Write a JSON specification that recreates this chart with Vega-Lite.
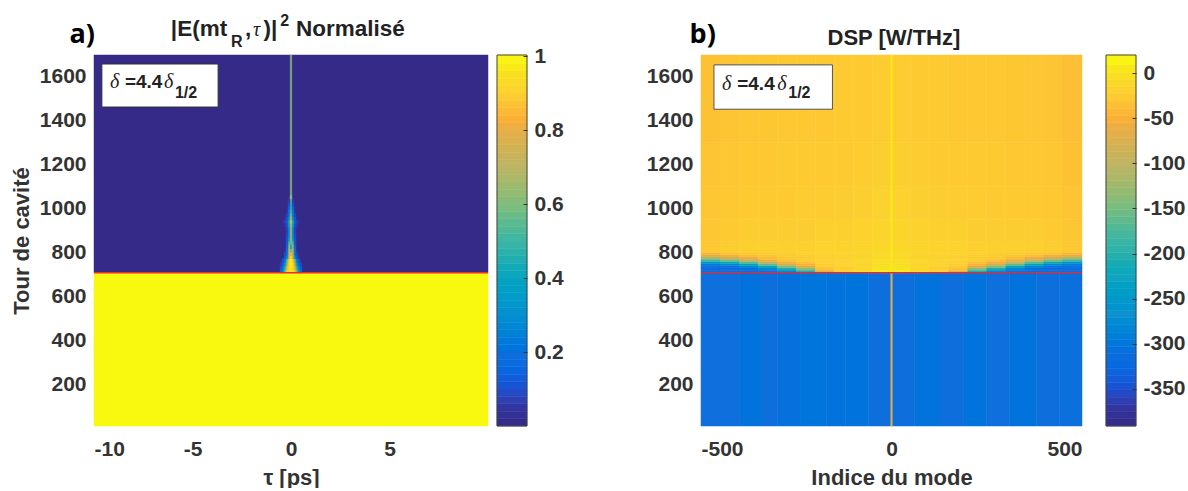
{"$schema":"https://vega.github.io/schema/vega-lite/v6.json","background":"white","padding":{"left":10,"top":13,"right":0,"bottom":0},"bounds":"flush","spacing":0,
"resolve":{"scale":{"color":"independent","stroke":"independent"},"legend":{"color":"independent"}},
"config":{"view":{"stroke":null},"font":"Liberation Sans","axis":{"domain":false,"ticks":false,"grid":false,"labelFont":"Liberation Sans","labelFontWeight":"bold","labelFontSize":21,"labelColor":"#333333","titleFont":"Liberation Sans","titleFontWeight":"bold","titleFontSize":22,"titleColor":"#333333"}},
"hconcat":[
{"width":394,"height":371,"layer":[
{"data":{"values":[
{"x0":-10,"x1":10,"y0":708,"y1":1700,"v":0},{"x0":-10,"x1":10,"y0":10,"y1":708,"v":1},
{"x0":-0.035,"x1":0.035,"y0":1060,"y1":1700,"v":0.6},
{"x0":-0.05,"x1":0.05,"y0":708,"y1":724,"v":0.98},{"x0":0.05,"x1":0.15,"y0":708,"y1":724,"v":0.95},{"x0":-0.15,"x1":-0.05,"y0":708,"y1":724,"v":0.95},{"x0":0.15,"x1":0.25,"y0":708,"y1":724,"v":0.88},{"x0":-0.25,"x1":-0.15,"y0":708,"y1":724,"v":0.88},{"x0":0.25,"x1":0.35,"y0":708,"y1":724,"v":0.6},{"x0":-0.35,"x1":-0.25,"y0":708,"y1":724,"v":0.6},{"x0":0.35,"x1":0.45,"y0":708,"y1":724,"v":0.35},{"x0":-0.45,"x1":-0.35,"y0":708,"y1":724,"v":0.35},{"x0":0.45,"x1":0.55,"y0":708,"y1":724,"v":0.18},{"x0":-0.55,"x1":-0.45,"y0":708,"y1":724,"v":0.18},
{"x0":-0.05,"x1":0.05,"y0":724,"y1":740,"v":0.98},{"x0":0.05,"x1":0.15,"y0":724,"y1":740,"v":0.95},{"x0":-0.15,"x1":-0.05,"y0":724,"y1":740,"v":0.95},{"x0":0.15,"x1":0.25,"y0":724,"y1":740,"v":0.85},{"x0":-0.25,"x1":-0.15,"y0":724,"y1":740,"v":0.85},{"x0":0.25,"x1":0.35,"y0":724,"y1":740,"v":0.5},{"x0":-0.35,"x1":-0.25,"y0":724,"y1":740,"v":0.5},{"x0":0.35,"x1":0.45,"y0":724,"y1":740,"v":0.28},{"x0":-0.45,"x1":-0.35,"y0":724,"y1":740,"v":0.28},{"x0":0.45,"x1":0.55,"y0":724,"y1":740,"v":0.12},{"x0":-0.55,"x1":-0.45,"y0":724,"y1":740,"v":0.12},
{"x0":-0.05,"x1":0.05,"y0":740,"y1":756,"v":1},{"x0":0.05,"x1":0.15,"y0":740,"y1":756,"v":0.95},{"x0":-0.15,"x1":-0.05,"y0":740,"y1":756,"v":0.95},{"x0":0.15,"x1":0.25,"y0":740,"y1":756,"v":0.75},{"x0":-0.25,"x1":-0.15,"y0":740,"y1":756,"v":0.75},{"x0":0.25,"x1":0.35,"y0":740,"y1":756,"v":0.4},{"x0":-0.35,"x1":-0.25,"y0":740,"y1":756,"v":0.4},{"x0":0.35,"x1":0.45,"y0":740,"y1":756,"v":0.18},{"x0":-0.45,"x1":-0.35,"y0":740,"y1":756,"v":0.18},{"x0":0.45,"x1":0.55,"y0":740,"y1":756,"v":0.08},{"x0":-0.55,"x1":-0.45,"y0":740,"y1":756,"v":0.08},
{"x0":-0.05,"x1":0.05,"y0":756,"y1":772,"v":1},{"x0":0.05,"x1":0.15,"y0":756,"y1":772,"v":0.9},{"x0":-0.15,"x1":-0.05,"y0":756,"y1":772,"v":0.9},{"x0":0.15,"x1":0.25,"y0":756,"y1":772,"v":0.6},{"x0":-0.25,"x1":-0.15,"y0":756,"y1":772,"v":0.6},{"x0":0.25,"x1":0.35,"y0":756,"y1":772,"v":0.28},{"x0":-0.35,"x1":-0.25,"y0":756,"y1":772,"v":0.28},{"x0":0.35,"x1":0.45,"y0":756,"y1":772,"v":0.12},{"x0":-0.45,"x1":-0.35,"y0":756,"y1":772,"v":0.12},
{"x0":-0.05,"x1":0.05,"y0":772,"y1":788,"v":0.95},{"x0":0.05,"x1":0.15,"y0":772,"y1":788,"v":0.8},{"x0":-0.15,"x1":-0.05,"y0":772,"y1":788,"v":0.8},{"x0":0.15,"x1":0.25,"y0":772,"y1":788,"v":0.35},{"x0":-0.25,"x1":-0.15,"y0":772,"y1":788,"v":0.35},{"x0":0.25,"x1":0.35,"y0":772,"y1":788,"v":0.12},{"x0":-0.35,"x1":-0.25,"y0":772,"y1":788,"v":0.12},
{"x0":-0.05,"x1":0.05,"y0":788,"y1":804,"v":0.85},{"x0":0.05,"x1":0.15,"y0":788,"y1":804,"v":0.7},{"x0":-0.15,"x1":-0.05,"y0":788,"y1":804,"v":0.7},{"x0":0.15,"x1":0.25,"y0":788,"y1":804,"v":0.25},{"x0":-0.25,"x1":-0.15,"y0":788,"y1":804,"v":0.25},{"x0":0.25,"x1":0.35,"y0":788,"y1":804,"v":0.08},{"x0":-0.35,"x1":-0.25,"y0":788,"y1":804,"v":0.08},
{"x0":-0.05,"x1":0.05,"y0":804,"y1":820,"v":0.55},{"x0":0.05,"x1":0.15,"y0":804,"y1":820,"v":0.7},{"x0":-0.15,"x1":-0.05,"y0":804,"y1":820,"v":0.7},{"x0":0.15,"x1":0.25,"y0":804,"y1":820,"v":0.2},{"x0":-0.25,"x1":-0.15,"y0":804,"y1":820,"v":0.2},
{"x0":-0.05,"x1":0.05,"y0":820,"y1":836,"v":0.35},{"x0":0.05,"x1":0.15,"y0":820,"y1":836,"v":0.65},{"x0":-0.15,"x1":-0.05,"y0":820,"y1":836,"v":0.65},{"x0":0.15,"x1":0.25,"y0":820,"y1":836,"v":0.15},{"x0":-0.25,"x1":-0.15,"y0":820,"y1":836,"v":0.15},
{"x0":-0.05,"x1":0.05,"y0":836,"y1":852,"v":0.55},{"x0":0.05,"x1":0.15,"y0":836,"y1":852,"v":0.55},{"x0":-0.15,"x1":-0.05,"y0":836,"y1":852,"v":0.55},{"x0":0.15,"x1":0.25,"y0":836,"y1":852,"v":0.12},{"x0":-0.25,"x1":-0.15,"y0":836,"y1":852,"v":0.12},
{"x0":-0.05,"x1":0.05,"y0":852,"y1":868,"v":0.7},{"x0":0.05,"x1":0.15,"y0":852,"y1":868,"v":0.4},{"x0":-0.15,"x1":-0.05,"y0":852,"y1":868,"v":0.4},{"x0":0.15,"x1":0.25,"y0":852,"y1":868,"v":0.12},{"x0":-0.25,"x1":-0.15,"y0":852,"y1":868,"v":0.12},
{"x0":-0.05,"x1":0.05,"y0":868,"y1":884,"v":0.72},{"x0":0.05,"x1":0.15,"y0":868,"y1":884,"v":0.3},{"x0":-0.15,"x1":-0.05,"y0":868,"y1":884,"v":0.3},{"x0":0.15,"x1":0.25,"y0":868,"y1":884,"v":0.1},{"x0":-0.25,"x1":-0.15,"y0":868,"y1":884,"v":0.1},
{"x0":-0.05,"x1":0.05,"y0":884,"y1":900,"v":0.72},{"x0":0.05,"x1":0.15,"y0":884,"y1":900,"v":0.3},{"x0":-0.15,"x1":-0.05,"y0":884,"y1":900,"v":0.3},{"x0":0.15,"x1":0.25,"y0":884,"y1":900,"v":0.08},{"x0":-0.25,"x1":-0.15,"y0":884,"y1":900,"v":0.08},
{"x0":-0.05,"x1":0.05,"y0":900,"y1":916,"v":0.7},{"x0":0.05,"x1":0.15,"y0":900,"y1":916,"v":0.3},{"x0":-0.15,"x1":-0.05,"y0":900,"y1":916,"v":0.3},{"x0":0.15,"x1":0.25,"y0":900,"y1":916,"v":0.08},{"x0":-0.25,"x1":-0.15,"y0":900,"y1":916,"v":0.08},
{"x0":-0.05,"x1":0.05,"y0":916,"y1":932,"v":0.78},{"x0":0.05,"x1":0.15,"y0":916,"y1":932,"v":0.4},{"x0":-0.15,"x1":-0.05,"y0":916,"y1":932,"v":0.4},{"x0":0.15,"x1":0.25,"y0":916,"y1":932,"v":0.12},{"x0":-0.25,"x1":-0.15,"y0":916,"y1":932,"v":0.12},{"x0":0.25,"x1":0.35,"y0":916,"y1":932,"v":0.06},{"x0":-0.35,"x1":-0.25,"y0":916,"y1":932,"v":0.06},
{"x0":-0.05,"x1":0.05,"y0":932,"y1":948,"v":0.88},{"x0":0.05,"x1":0.15,"y0":932,"y1":948,"v":0.45},{"x0":-0.15,"x1":-0.05,"y0":932,"y1":948,"v":0.45},{"x0":0.15,"x1":0.25,"y0":932,"y1":948,"v":0.15},{"x0":-0.25,"x1":-0.15,"y0":932,"y1":948,"v":0.15},{"x0":0.25,"x1":0.35,"y0":932,"y1":948,"v":0.07},{"x0":-0.35,"x1":-0.25,"y0":932,"y1":948,"v":0.07},{"x0":0.35,"x1":0.45,"y0":932,"y1":948,"v":0.05},{"x0":-0.45,"x1":-0.35,"y0":932,"y1":948,"v":0.05},
{"x0":-0.05,"x1":0.05,"y0":948,"y1":964,"v":0.8},{"x0":0.05,"x1":0.15,"y0":948,"y1":964,"v":0.35},{"x0":-0.15,"x1":-0.05,"y0":948,"y1":964,"v":0.35},{"x0":0.15,"x1":0.25,"y0":948,"y1":964,"v":0.12},{"x0":-0.25,"x1":-0.15,"y0":948,"y1":964,"v":0.12},
{"x0":-0.05,"x1":0.05,"y0":964,"y1":980,"v":0.65},{"x0":0.05,"x1":0.15,"y0":964,"y1":980,"v":0.25},{"x0":-0.15,"x1":-0.05,"y0":964,"y1":980,"v":0.25},{"x0":0.15,"x1":0.25,"y0":964,"y1":980,"v":0.08},{"x0":-0.25,"x1":-0.15,"y0":964,"y1":980,"v":0.08},
{"x0":-0.05,"x1":0.05,"y0":980,"y1":996,"v":0.55},{"x0":0.05,"x1":0.15,"y0":980,"y1":996,"v":0.2},{"x0":-0.15,"x1":-0.05,"y0":980,"y1":996,"v":0.2},
{"x0":-0.05,"x1":0.05,"y0":996,"y1":1012,"v":0.5},{"x0":0.05,"x1":0.15,"y0":996,"y1":1012,"v":0.15},{"x0":-0.15,"x1":-0.05,"y0":996,"y1":1012,"v":0.15},
{"x0":-0.05,"x1":0.05,"y0":1012,"y1":1028,"v":0.5},{"x0":0.05,"x1":0.15,"y0":1012,"y1":1028,"v":0.1},{"x0":-0.15,"x1":-0.05,"y0":1012,"y1":1028,"v":0.1},
{"x0":-0.05,"x1":0.05,"y0":1028,"y1":1044,"v":0.55},{"x0":0.05,"x1":0.15,"y0":1028,"y1":1044,"v":0.06},{"x0":-0.15,"x1":-0.05,"y0":1028,"y1":1044,"v":0.06},
{"x0":-0.05,"x1":0.05,"y0":1044,"y1":1060,"v":0.6}
]},"mark":{"type":"rect","strokeWidth":0.5},"encoding":{
"x":{"field":"x0","type":"quantitative","scale":{"domain":[-10,10],"nice":false,"zero":false},"axis":{"values":[-10,-5,0,5],"labelExpr":"''+datum.value","labelPadding":12,"title":"τ [ps]","titlePadding":8}},
"x2":{"field":"x1"},
"y":{"field":"y0","type":"quantitative","scale":{"domain":[10,1700],"nice":false,"zero":false},"axis":{"values":[200,400,600,800,1000,1200,1400,1600],"labelExpr":"''+datum.value","labelPadding":8,"title":"Tour de cavité","titlePadding":6}},
"y2":{"field":"y1"},
"color":{"field":"v","type":"quantitative","scale":{"domain":[0,0.05,0.1,0.15,0.2,0.3,0.4,0.45,0.5,0.6,0.7,0.8,0.83,0.85,0.9,0.95,1.003],"range":["#352a87","#32359f","#1a50d0","#0a66e0","#0f6fdc","#1090d0","#10a4c0","#20aeb0","#3bb5a5","#80bd7c","#bdb465","#e8ae48","#fbb035","#fdb838","#fcd12f","#f8e020","#f9fb0e"]},"legend":null},
"stroke":{"field":"v","type":"quantitative","scale":{"domain":[0,0.05,0.1,0.15,0.2,0.3,0.4,0.45,0.5,0.6,0.7,0.8,0.83,0.85,0.9,0.95,1.003],"range":["#352a87","#32359f","#1a50d0","#0a66e0","#0f6fdc","#1090d0","#10a4c0","#20aeb0","#3bb5a5","#80bd7c","#bdb465","#e8ae48","#fbb035","#fdb838","#fcd12f","#f8e020","#f9fb0e"]},"legend":null}}},
{"data":{"values":[{"y":708}]},"mark":{"type":"rule","color":"#ee2a2e","strokeWidth":1.5},"encoding":{"y":{"field":"y","type":"quantitative"}}},
{"data":{"values":[{"x0":-9.6,"x1":-3.7,"y0":1463,"y1":1659}]},"mark":{"type":"rect","fill":"white","stroke":"#333333","strokeWidth":1},"encoding":{"x":{"field":"x0","type":"quantitative"},"x2":{"field":"x1"},"y":{"field":"y0","type":"quantitative"},"y2":{"field":"y1"}}},
{"data":{"values":[{"x":-9.19,"y":1549,"t":"δ"},{"x":-6.45,"y":1549,"t":"δ"},{"x":-1.93,"y":1787,"t":"τ"}]},"mark":{"type":"text","font":"Liberation Serif","fontStyle":"italic","fontSize":20,"align":"left","baseline":"alphabetic","color":"#222222"},"encoding":{"x":{"field":"x","type":"quantitative"},"y":{"field":"y","type":"quantitative"},"text":{"field":"t"}}},
{"data":{"values":[{"x":-8.43,"y":1549,"t":"=4.4"}]},"mark":{"type":"text","font":"Liberation Sans","fontWeight":"bold","fontSize":19,"align":"left","baseline":"alphabetic","color":"#222222"},"encoding":{"x":{"field":"x","type":"quantitative"},"y":{"field":"y","type":"quantitative"},"text":{"field":"t"}}},
{"data":{"values":[{"x":-6.1,"y":1787,"t":"|E(mt"},{"x":-2.33,"y":1787,"t":","},{"x":-1.4,"y":1787,"t":")|"},{"x":0.25,"y":1787,"t":"Normalisé"}]},"mark":{"type":"text","font":"Liberation Sans","fontWeight":"bold","fontSize":22.5,"align":"left","baseline":"alphabetic","color":"#222222"},"encoding":{"x":{"field":"x","type":"quantitative"},"y":{"field":"y","type":"quantitative"},"text":{"field":"t"}}},
{"data":{"values":[{"x":-5.89,"y":1504,"t":"1/2"},{"x":-3.05,"y":1737,"t":"R"},{"x":-0.55,"y":1832,"t":"2"}]},"mark":{"type":"text","font":"Liberation Sans","fontWeight":"bold","fontSize":16,"align":"left","baseline":"alphabetic","color":"#222222"},"encoding":{"x":{"field":"x","type":"quantitative"},"y":{"field":"y","type":"quantitative"},"text":{"field":"t"}}},
{"data":{"values":[{"x":-11.25,"y":1755,"t":"a)"}]},"mark":{"type":"text","font":"Open Sans","fontWeight":"bold","fontSize":27,"align":"left","baseline":"alphabetic","color":"#000000"},"encoding":{"x":{"field":"x","type":"quantitative"},"y":{"field":"y","type":"quantitative"},"text":{"field":"t"}}}
]},
{"width":213,"height":371,"layer":[
{"data":{"values":[{"y0":0,"y1":0.02,"v":0.01},{"y0":0.02,"y1":0.04,"v":0.03},{"y0":0.04,"y1":0.06,"v":0.05},{"y0":0.06,"y1":0.08,"v":0.07},{"y0":0.08,"y1":0.1,"v":0.09},{"y0":0.1,"y1":0.12,"v":0.11},{"y0":0.12,"y1":0.14,"v":0.13},{"y0":0.14,"y1":0.16,"v":0.15},{"y0":0.16,"y1":0.18,"v":0.17},{"y0":0.18,"y1":0.2,"v":0.19},{"y0":0.2,"y1":0.22,"v":0.21},{"y0":0.22,"y1":0.24,"v":0.23},{"y0":0.24,"y1":0.26,"v":0.25},{"y0":0.26,"y1":0.28,"v":0.27},{"y0":0.28,"y1":0.3,"v":0.29},{"y0":0.3,"y1":0.32,"v":0.31},{"y0":0.32,"y1":0.34,"v":0.33},{"y0":0.34,"y1":0.36,"v":0.35},{"y0":0.36,"y1":0.38,"v":0.37},{"y0":0.38,"y1":0.4,"v":0.39},{"y0":0.4,"y1":0.42,"v":0.41},{"y0":0.42,"y1":0.44,"v":0.43},{"y0":0.44,"y1":0.46,"v":0.45},{"y0":0.46,"y1":0.48,"v":0.47},{"y0":0.48,"y1":0.5,"v":0.49},{"y0":0.5,"y1":0.52,"v":0.51},{"y0":0.52,"y1":0.54,"v":0.53},{"y0":0.54,"y1":0.56,"v":0.55},{"y0":0.56,"y1":0.58,"v":0.57},{"y0":0.58,"y1":0.6,"v":0.59},{"y0":0.6,"y1":0.62,"v":0.61},{"y0":0.62,"y1":0.64,"v":0.63},{"y0":0.64,"y1":0.66,"v":0.65},{"y0":0.66,"y1":0.68,"v":0.67},{"y0":0.68,"y1":0.7,"v":0.69},{"y0":0.7,"y1":0.72,"v":0.71},{"y0":0.72,"y1":0.74,"v":0.73},{"y0":0.74,"y1":0.76,"v":0.75},{"y0":0.76,"y1":0.78,"v":0.77},{"y0":0.78,"y1":0.8,"v":0.79},{"y0":0.8,"y1":0.82,"v":0.81},{"y0":0.82,"y1":0.84,"v":0.83},{"y0":0.84,"y1":0.86,"v":0.85},{"y0":0.86,"y1":0.88,"v":0.87},{"y0":0.88,"y1":0.9,"v":0.89},{"y0":0.9,"y1":0.92,"v":0.91},{"y0":0.92,"y1":0.94,"v":0.93},{"y0":0.94,"y1":0.96,"v":0.95},{"y0":0.96,"y1":0.98,"v":0.97},{"y0":0.98,"y1":1.003,"v":0.99}]},
"mark":{"type":"rect","strokeWidth":0.5},"encoding":{
"x":{"datum":9,"type":"quantitative","scale":{"domain":[0,213],"nice":false,"zero":false},"axis":null},"x2":{"datum":39},
"y":{"field":"y0","type":"quantitative","scale":{"domain":[0,1.003],"nice":false,"zero":false},"axis":{"orient":"right","offset":-174,"zindex":1,"values":[0.2,0.4,0.6,0.8,1],"labelExpr":"''+datum.value","title":null,"ticks":true,"tickSize":-4,"tickColor":"#333333","tickWidth":1,"labelPadding":11}},
"y2":{"field":"y1"},
"color":{"field":"v","type":"quantitative","scale":{"domain":[0,0.05,0.1,0.15,0.2,0.3,0.4,0.45,0.5,0.6,0.7,0.8,0.83,0.85,0.9,0.95,1.003],"range":["#352a87","#32359f","#1a50d0","#0a66e0","#0f6fdc","#1090d0","#10a4c0","#20aeb0","#3bb5a5","#80bd7c","#bdb465","#e8ae48","#fbb035","#fdb838","#fcd12f","#f8e020","#f9fb0e"]},"legend":null},
"stroke":{"field":"v","type":"quantitative","scale":{"domain":[0,0.05,0.1,0.15,0.2,0.3,0.4,0.45,0.5,0.6,0.7,0.8,0.83,0.85,0.9,0.95,1.003],"range":["#352a87","#32359f","#1a50d0","#0a66e0","#0f6fdc","#1090d0","#10a4c0","#20aeb0","#3bb5a5","#80bd7c","#bdb465","#e8ae48","#fbb035","#fdb838","#fcd12f","#f8e020","#f9fb0e"]},"legend":null}}},
{"data":{"values":[{"x0":9,"x1":39,"y0":0,"y1":1.003}]},"mark":{"type":"rect","fill":null,"stroke":"#444444","strokeWidth":1},"encoding":{"x":{"field":"x0","type":"quantitative"},"x2":{"field":"x1"},"y":{"field":"y0","type":"quantitative"},"y2":{"field":"y1"}}}
]},
{"width":381,"height":371,"layer":[
{"data":{"values":[
{"x0":-500,"x1":-400,"y0":10,"y1":708,"v":-309},{"x0":-400,"x1":-340,"y0":10,"y1":708,"v":-306},{"x0":-340,"x1":-300,"y0":10,"y1":708,"v":-310},{"x0":-300,"x1":-240,"y0":10,"y1":708,"v":-307},{"x0":-240,"x1":-170,"y0":10,"y1":708,"v":-303},{"x0":-170,"x1":-120,"y0":10,"y1":708,"v":-306},{"x0":-120,"x1":-60,"y0":10,"y1":708,"v":-304},{"x0":-60,"x1":0,"y0":10,"y1":708,"v":-310},{"x0":0,"x1":60,"y0":10,"y1":708,"v":-311},{"x0":60,"x1":130,"y0":10,"y1":708,"v":-306},{"x0":130,"x1":190,"y0":10,"y1":708,"v":-310},{"x0":190,"x1":250,"y0":10,"y1":708,"v":-305},{"x0":250,"x1":310,"y0":10,"y1":708,"v":-309},{"x0":310,"x1":380,"y0":10,"y1":708,"v":-306},{"x0":380,"x1":440,"y0":10,"y1":708,"v":-310},{"x0":440,"x1":500,"y0":10,"y1":708,"v":-308},
{"x0":-500,"x1":-450,"y0":708,"y1":720,"v":-315},{"x0":-450,"x1":-400,"y0":708,"y1":720,"v":-315},{"x0":-400,"x1":-350,"y0":708,"y1":720,"v":-315},{"x0":-350,"x1":-300,"y0":708,"y1":720,"v":-312},{"x0":-300,"x1":-250,"y0":708,"y1":720,"v":-280},{"x0":-250,"x1":-200,"y0":708,"y1":720,"v":-205},{"x0":-200,"x1":-150,"y0":708,"y1":720,"v":-60},{"x0":-150,"x1":-100,"y0":708,"y1":720,"v":-24},{"x0":-100,"x1":-50,"y0":708,"y1":720,"v":-12},{"x0":-50,"x1":0,"y0":708,"y1":720,"v":5},{"x0":0,"x1":50,"y0":708,"y1":720,"v":5},{"x0":50,"x1":100,"y0":708,"y1":720,"v":-12},{"x0":100,"x1":150,"y0":708,"y1":720,"v":-24},{"x0":150,"x1":200,"y0":708,"y1":720,"v":-60},{"x0":200,"x1":250,"y0":708,"y1":720,"v":-205},{"x0":250,"x1":300,"y0":708,"y1":720,"v":-280},{"x0":300,"x1":350,"y0":708,"y1":720,"v":-312},{"x0":350,"x1":400,"y0":708,"y1":720,"v":-315},{"x0":400,"x1":450,"y0":708,"y1":720,"v":-315},{"x0":450,"x1":500,"y0":708,"y1":720,"v":-315},
{"x0":-500,"x1":-450,"y0":720,"y1":730,"v":-315},{"x0":-450,"x1":-400,"y0":720,"y1":730,"v":-315},{"x0":-400,"x1":-350,"y0":720,"y1":730,"v":-312},{"x0":-350,"x1":-300,"y0":720,"y1":730,"v":-288},{"x0":-300,"x1":-250,"y0":720,"y1":730,"v":-220},{"x0":-250,"x1":-200,"y0":720,"y1":730,"v":-140},{"x0":-200,"x1":-150,"y0":720,"y1":730,"v":-35},{"x0":-150,"x1":-100,"y0":720,"y1":730,"v":-22},{"x0":-100,"x1":-50,"y0":720,"y1":730,"v":-12},{"x0":-50,"x1":0,"y0":720,"y1":730,"v":3},{"x0":0,"x1":50,"y0":720,"y1":730,"v":3},{"x0":50,"x1":100,"y0":720,"y1":730,"v":-12},{"x0":100,"x1":150,"y0":720,"y1":730,"v":-22},{"x0":150,"x1":200,"y0":720,"y1":730,"v":-35},{"x0":200,"x1":250,"y0":720,"y1":730,"v":-140},{"x0":250,"x1":300,"y0":720,"y1":730,"v":-220},{"x0":300,"x1":350,"y0":720,"y1":730,"v":-288},{"x0":350,"x1":400,"y0":720,"y1":730,"v":-312},{"x0":400,"x1":450,"y0":720,"y1":730,"v":-315},{"x0":450,"x1":500,"y0":720,"y1":730,"v":-315},
{"x0":-500,"x1":-450,"y0":730,"y1":740,"v":-312},{"x0":-450,"x1":-400,"y0":730,"y1":740,"v":-310},{"x0":-400,"x1":-350,"y0":730,"y1":740,"v":-288},{"x0":-350,"x1":-300,"y0":730,"y1":740,"v":-232},{"x0":-300,"x1":-250,"y0":730,"y1":740,"v":-150},{"x0":-250,"x1":-200,"y0":730,"y1":740,"v":-82},{"x0":-200,"x1":-150,"y0":730,"y1":740,"v":-27},{"x0":-150,"x1":-100,"y0":730,"y1":740,"v":-21},{"x0":-100,"x1":-50,"y0":730,"y1":740,"v":-12},{"x0":-50,"x1":0,"y0":730,"y1":740,"v":0},{"x0":0,"x1":50,"y0":730,"y1":740,"v":0},{"x0":50,"x1":100,"y0":730,"y1":740,"v":-12},{"x0":100,"x1":150,"y0":730,"y1":740,"v":-21},{"x0":150,"x1":200,"y0":730,"y1":740,"v":-27},{"x0":200,"x1":250,"y0":730,"y1":740,"v":-82},{"x0":250,"x1":300,"y0":730,"y1":740,"v":-150},{"x0":300,"x1":350,"y0":730,"y1":740,"v":-232},{"x0":350,"x1":400,"y0":730,"y1":740,"v":-288},{"x0":400,"x1":450,"y0":730,"y1":740,"v":-310},{"x0":450,"x1":500,"y0":730,"y1":740,"v":-312},
{"x0":-500,"x1":-450,"y0":740,"y1":750,"v":-300},{"x0":-450,"x1":-400,"y0":740,"y1":750,"v":-280},{"x0":-400,"x1":-350,"y0":740,"y1":750,"v":-232},{"x0":-350,"x1":-300,"y0":740,"y1":750,"v":-165},{"x0":-300,"x1":-250,"y0":740,"y1":750,"v":-90},{"x0":-250,"x1":-200,"y0":740,"y1":750,"v":-50},{"x0":-200,"x1":-150,"y0":740,"y1":750,"v":-24},{"x0":-150,"x1":-100,"y0":740,"y1":750,"v":-20},{"x0":-100,"x1":-50,"y0":740,"y1":750,"v":-13},{"x0":-50,"x1":0,"y0":740,"y1":750,"v":-2},{"x0":0,"x1":50,"y0":740,"y1":750,"v":-2},{"x0":50,"x1":100,"y0":740,"y1":750,"v":-13},{"x0":100,"x1":150,"y0":740,"y1":750,"v":-20},{"x0":150,"x1":200,"y0":740,"y1":750,"v":-24},{"x0":200,"x1":250,"y0":740,"y1":750,"v":-50},{"x0":250,"x1":300,"y0":740,"y1":750,"v":-90},{"x0":300,"x1":350,"y0":740,"y1":750,"v":-165},{"x0":350,"x1":400,"y0":740,"y1":750,"v":-232},{"x0":400,"x1":450,"y0":740,"y1":750,"v":-280},{"x0":450,"x1":500,"y0":740,"y1":750,"v":-300},
{"x0":-500,"x1":-450,"y0":750,"y1":760,"v":-255},{"x0":-450,"x1":-400,"y0":750,"y1":760,"v":-220},{"x0":-400,"x1":-350,"y0":750,"y1":760,"v":-165},{"x0":-350,"x1":-300,"y0":750,"y1":760,"v":-100},{"x0":-300,"x1":-250,"y0":750,"y1":760,"v":-55},{"x0":-250,"x1":-200,"y0":750,"y1":760,"v":-33},{"x0":-200,"x1":-150,"y0":750,"y1":760,"v":-23},{"x0":-150,"x1":-100,"y0":750,"y1":760,"v":-20},{"x0":-100,"x1":-50,"y0":750,"y1":760,"v":-14},{"x0":-50,"x1":0,"y0":750,"y1":760,"v":-4},{"x0":0,"x1":50,"y0":750,"y1":760,"v":-4},{"x0":50,"x1":100,"y0":750,"y1":760,"v":-14},{"x0":100,"x1":150,"y0":750,"y1":760,"v":-20},{"x0":150,"x1":200,"y0":750,"y1":760,"v":-23},{"x0":200,"x1":250,"y0":750,"y1":760,"v":-33},{"x0":250,"x1":300,"y0":750,"y1":760,"v":-55},{"x0":300,"x1":350,"y0":750,"y1":760,"v":-100},{"x0":350,"x1":400,"y0":750,"y1":760,"v":-165},{"x0":400,"x1":450,"y0":750,"y1":760,"v":-220},{"x0":450,"x1":500,"y0":750,"y1":760,"v":-255},
{"x0":-500,"x1":-450,"y0":760,"y1":770,"v":-185},{"x0":-450,"x1":-400,"y0":760,"y1":770,"v":-150},{"x0":-400,"x1":-350,"y0":760,"y1":770,"v":-100},{"x0":-350,"x1":-300,"y0":760,"y1":770,"v":-60},{"x0":-300,"x1":-250,"y0":760,"y1":770,"v":-35},{"x0":-250,"x1":-200,"y0":760,"y1":770,"v":-27},{"x0":-200,"x1":-150,"y0":760,"y1":770,"v":-22},{"x0":-150,"x1":-100,"y0":760,"y1":770,"v":-19},{"x0":-100,"x1":-50,"y0":760,"y1":770,"v":-14},{"x0":-50,"x1":0,"y0":760,"y1":770,"v":-6},{"x0":0,"x1":50,"y0":760,"y1":770,"v":-6},{"x0":50,"x1":100,"y0":760,"y1":770,"v":-14},{"x0":100,"x1":150,"y0":760,"y1":770,"v":-19},{"x0":150,"x1":200,"y0":760,"y1":770,"v":-22},{"x0":200,"x1":250,"y0":760,"y1":770,"v":-27},{"x0":250,"x1":300,"y0":760,"y1":770,"v":-35},{"x0":300,"x1":350,"y0":760,"y1":770,"v":-60},{"x0":350,"x1":400,"y0":760,"y1":770,"v":-100},{"x0":400,"x1":450,"y0":760,"y1":770,"v":-150},{"x0":450,"x1":500,"y0":760,"y1":770,"v":-185},
{"x0":-500,"x1":-450,"y0":770,"y1":780,"v":-120},{"x0":-450,"x1":-400,"y0":770,"y1":780,"v":-90},{"x0":-400,"x1":-350,"y0":770,"y1":780,"v":-60},{"x0":-350,"x1":-300,"y0":770,"y1":780,"v":-38},{"x0":-300,"x1":-250,"y0":770,"y1":780,"v":-27},{"x0":-250,"x1":-200,"y0":770,"y1":780,"v":-24},{"x0":-200,"x1":-150,"y0":770,"y1":780,"v":-21},{"x0":-150,"x1":-100,"y0":770,"y1":780,"v":-18},{"x0":-100,"x1":-50,"y0":770,"y1":780,"v":-14},{"x0":-50,"x1":0,"y0":770,"y1":780,"v":-8},{"x0":0,"x1":50,"y0":770,"y1":780,"v":-8},{"x0":50,"x1":100,"y0":770,"y1":780,"v":-14},{"x0":100,"x1":150,"y0":770,"y1":780,"v":-18},{"x0":150,"x1":200,"y0":770,"y1":780,"v":-21},{"x0":200,"x1":250,"y0":770,"y1":780,"v":-24},{"x0":250,"x1":300,"y0":770,"y1":780,"v":-27},{"x0":300,"x1":350,"y0":770,"y1":780,"v":-38},{"x0":350,"x1":400,"y0":770,"y1":780,"v":-60},{"x0":400,"x1":450,"y0":770,"y1":780,"v":-90},{"x0":450,"x1":500,"y0":770,"y1":780,"v":-120},
{"x0":-500,"x1":-450,"y0":780,"y1":790,"v":-70},{"x0":-450,"x1":-400,"y0":780,"y1":790,"v":-55},{"x0":-400,"x1":-350,"y0":780,"y1":790,"v":-38},{"x0":-350,"x1":-300,"y0":780,"y1":790,"v":-28},{"x0":-300,"x1":-250,"y0":780,"y1":790,"v":-25},{"x0":-250,"x1":-200,"y0":780,"y1":790,"v":-23},{"x0":-200,"x1":-150,"y0":780,"y1":790,"v":-21},{"x0":-150,"x1":-100,"y0":780,"y1":790,"v":-17},{"x0":-100,"x1":-50,"y0":780,"y1":790,"v":-15},{"x0":-50,"x1":0,"y0":780,"y1":790,"v":-9},{"x0":0,"x1":50,"y0":780,"y1":790,"v":-9},{"x0":50,"x1":100,"y0":780,"y1":790,"v":-15},{"x0":100,"x1":150,"y0":780,"y1":790,"v":-17},{"x0":150,"x1":200,"y0":780,"y1":790,"v":-21},{"x0":200,"x1":250,"y0":780,"y1":790,"v":-23},{"x0":250,"x1":300,"y0":780,"y1":790,"v":-25},{"x0":300,"x1":350,"y0":780,"y1":790,"v":-28},{"x0":350,"x1":400,"y0":780,"y1":790,"v":-38},{"x0":400,"x1":450,"y0":780,"y1":790,"v":-55},{"x0":450,"x1":500,"y0":780,"y1":790,"v":-70},
{"x0":-500,"x1":-450,"y0":790,"y1":800,"v":-45},{"x0":-450,"x1":-400,"y0":790,"y1":800,"v":-35},{"x0":-400,"x1":-350,"y0":790,"y1":800,"v":-28},{"x0":-350,"x1":-300,"y0":790,"y1":800,"v":-26},{"x0":-300,"x1":-250,"y0":790,"y1":800,"v":-24},{"x0":-250,"x1":-200,"y0":790,"y1":800,"v":-22},{"x0":-200,"x1":-150,"y0":790,"y1":800,"v":-20},{"x0":-150,"x1":-100,"y0":790,"y1":800,"v":-17},{"x0":-100,"x1":-50,"y0":790,"y1":800,"v":-15},{"x0":-50,"x1":0,"y0":790,"y1":800,"v":-10},{"x0":0,"x1":50,"y0":790,"y1":800,"v":-10},{"x0":50,"x1":100,"y0":790,"y1":800,"v":-15},{"x0":100,"x1":150,"y0":790,"y1":800,"v":-17},{"x0":150,"x1":200,"y0":790,"y1":800,"v":-20},{"x0":200,"x1":250,"y0":790,"y1":800,"v":-22},{"x0":250,"x1":300,"y0":790,"y1":800,"v":-24},{"x0":300,"x1":350,"y0":790,"y1":800,"v":-26},{"x0":350,"x1":400,"y0":790,"y1":800,"v":-28},{"x0":400,"x1":450,"y0":790,"y1":800,"v":-35},{"x0":450,"x1":500,"y0":790,"y1":800,"v":-45},
{"x0":-500,"x1":-450,"y0":800,"y1":850,"v":-28},{"x0":-450,"x1":-400,"y0":800,"y1":850,"v":-24},{"x0":-400,"x1":-350,"y0":800,"y1":850,"v":-22},{"x0":-350,"x1":-300,"y0":800,"y1":850,"v":-22},{"x0":-300,"x1":-250,"y0":800,"y1":850,"v":-22},{"x0":-250,"x1":-200,"y0":800,"y1":850,"v":-21},{"x0":-200,"x1":-150,"y0":800,"y1":850,"v":-20},{"x0":-150,"x1":-100,"y0":800,"y1":850,"v":-19},{"x0":-100,"x1":-50,"y0":800,"y1":850,"v":-17},{"x0":-50,"x1":0,"y0":800,"y1":850,"v":-13},{"x0":0,"x1":50,"y0":800,"y1":850,"v":-13},{"x0":50,"x1":100,"y0":800,"y1":850,"v":-17},{"x0":100,"x1":150,"y0":800,"y1":850,"v":-19},{"x0":150,"x1":200,"y0":800,"y1":850,"v":-20},{"x0":200,"x1":250,"y0":800,"y1":850,"v":-21},{"x0":250,"x1":300,"y0":800,"y1":850,"v":-22},{"x0":300,"x1":350,"y0":800,"y1":850,"v":-22},{"x0":350,"x1":400,"y0":800,"y1":850,"v":-22},{"x0":400,"x1":450,"y0":800,"y1":850,"v":-24},{"x0":450,"x1":500,"y0":800,"y1":850,"v":-28},
{"x0":-500,"x1":-450,"y0":850,"y1":950,"v":-30},{"x0":-450,"x1":-400,"y0":850,"y1":950,"v":-26},{"x0":-400,"x1":-350,"y0":850,"y1":950,"v":-24},{"x0":-350,"x1":-300,"y0":850,"y1":950,"v":-24},{"x0":-300,"x1":-250,"y0":850,"y1":950,"v":-24},{"x0":-250,"x1":-200,"y0":850,"y1":950,"v":-24},{"x0":-200,"x1":-150,"y0":850,"y1":950,"v":-22},{"x0":-150,"x1":-100,"y0":850,"y1":950,"v":-22},{"x0":-100,"x1":-50,"y0":850,"y1":950,"v":-20},{"x0":-50,"x1":0,"y0":850,"y1":950,"v":-16},{"x0":0,"x1":50,"y0":850,"y1":950,"v":-16},{"x0":50,"x1":100,"y0":850,"y1":950,"v":-20},{"x0":100,"x1":150,"y0":850,"y1":950,"v":-22},{"x0":150,"x1":200,"y0":850,"y1":950,"v":-22},{"x0":200,"x1":250,"y0":850,"y1":950,"v":-24},{"x0":250,"x1":300,"y0":850,"y1":950,"v":-24},{"x0":300,"x1":350,"y0":850,"y1":950,"v":-24},{"x0":350,"x1":400,"y0":850,"y1":950,"v":-24},{"x0":400,"x1":450,"y0":850,"y1":950,"v":-26},{"x0":450,"x1":500,"y0":850,"y1":950,"v":-30},
{"x0":-500,"x1":-450,"y0":950,"y1":1100,"v":-30},{"x0":-450,"x1":-400,"y0":950,"y1":1100,"v":-28},{"x0":-400,"x1":-350,"y0":950,"y1":1100,"v":-27},{"x0":-350,"x1":-300,"y0":950,"y1":1100,"v":-26},{"x0":-300,"x1":-250,"y0":950,"y1":1100,"v":-26},{"x0":-250,"x1":-200,"y0":950,"y1":1100,"v":-25},{"x0":-200,"x1":-150,"y0":950,"y1":1100,"v":-25},{"x0":-150,"x1":-100,"y0":950,"y1":1100,"v":-24},{"x0":-100,"x1":-50,"y0":950,"y1":1100,"v":-23},{"x0":-50,"x1":0,"y0":950,"y1":1100,"v":-20},{"x0":0,"x1":50,"y0":950,"y1":1100,"v":-20},{"x0":50,"x1":100,"y0":950,"y1":1100,"v":-23},{"x0":100,"x1":150,"y0":950,"y1":1100,"v":-24},{"x0":150,"x1":200,"y0":950,"y1":1100,"v":-25},{"x0":200,"x1":250,"y0":950,"y1":1100,"v":-25},{"x0":250,"x1":300,"y0":950,"y1":1100,"v":-26},{"x0":300,"x1":350,"y0":950,"y1":1100,"v":-26},{"x0":350,"x1":400,"y0":950,"y1":1100,"v":-27},{"x0":400,"x1":450,"y0":950,"y1":1100,"v":-28},{"x0":450,"x1":500,"y0":950,"y1":1100,"v":-32},
{"x0":-500,"x1":-450,"y0":1100,"y1":1300,"v":-32},{"x0":-450,"x1":-400,"y0":1100,"y1":1300,"v":-30},{"x0":-400,"x1":-350,"y0":1100,"y1":1300,"v":-28},{"x0":-350,"x1":-300,"y0":1100,"y1":1300,"v":-28},{"x0":-300,"x1":-250,"y0":1100,"y1":1300,"v":-27},{"x0":-250,"x1":-200,"y0":1100,"y1":1300,"v":-27},{"x0":-200,"x1":-150,"y0":1100,"y1":1300,"v":-26},{"x0":-150,"x1":-100,"y0":1100,"y1":1300,"v":-26},{"x0":-100,"x1":-50,"y0":1100,"y1":1300,"v":-25},{"x0":-50,"x1":0,"y0":1100,"y1":1300,"v":-23},{"x0":0,"x1":50,"y0":1100,"y1":1300,"v":-23},{"x0":50,"x1":100,"y0":1100,"y1":1300,"v":-25},{"x0":100,"x1":150,"y0":1100,"y1":1300,"v":-26},{"x0":150,"x1":200,"y0":1100,"y1":1300,"v":-26},{"x0":200,"x1":250,"y0":1100,"y1":1300,"v":-27},{"x0":250,"x1":300,"y0":1100,"y1":1300,"v":-27},{"x0":300,"x1":350,"y0":1100,"y1":1300,"v":-28},{"x0":350,"x1":400,"y0":1100,"y1":1300,"v":-28},{"x0":400,"x1":450,"y0":1100,"y1":1300,"v":-30},{"x0":450,"x1":500,"y0":1100,"y1":1300,"v":-34},
{"x0":-500,"x1":-450,"y0":1300,"y1":1700,"v":-34},{"x0":-450,"x1":-400,"y0":1300,"y1":1700,"v":-32},{"x0":-400,"x1":-350,"y0":1300,"y1":1700,"v":-30},{"x0":-350,"x1":-300,"y0":1300,"y1":1700,"v":-29},{"x0":-300,"x1":-250,"y0":1300,"y1":1700,"v":-28},{"x0":-250,"x1":-200,"y0":1300,"y1":1700,"v":-28},{"x0":-200,"x1":-150,"y0":1300,"y1":1700,"v":-28},{"x0":-150,"x1":-100,"y0":1300,"y1":1700,"v":-27},{"x0":-100,"x1":-50,"y0":1300,"y1":1700,"v":-27},{"x0":-50,"x1":0,"y0":1300,"y1":1700,"v":-25},{"x0":0,"x1":50,"y0":1300,"y1":1700,"v":-25},{"x0":50,"x1":100,"y0":1300,"y1":1700,"v":-27},{"x0":100,"x1":150,"y0":1300,"y1":1700,"v":-27},{"x0":150,"x1":200,"y0":1300,"y1":1700,"v":-28},{"x0":200,"x1":250,"y0":1300,"y1":1700,"v":-28},{"x0":250,"x1":300,"y0":1300,"y1":1700,"v":-28},{"x0":300,"x1":350,"y0":1300,"y1":1700,"v":-29},{"x0":350,"x1":400,"y0":1300,"y1":1700,"v":-30},{"x0":400,"x1":450,"y0":1300,"y1":1700,"v":-32},{"x0":450,"x1":500,"y0":1300,"y1":1700,"v":-36},
{"x0":-2,"x1":2,"y0":10,"y1":708,"v":-72},{"x0":-2,"x1":2,"y0":708,"y1":1700,"v":8}
]},"mark":{"type":"rect","strokeWidth":0.5},"encoding":{
"x":{"field":"x0","type":"quantitative","scale":{"domain":[-500,500],"nice":false,"zero":false},"axis":{"values":[-500,0,500],"labelExpr":"''+datum.value","labelPadding":12,"title":"Indice du mode","titlePadding":8}},
"x2":{"field":"x1"},
"y":{"field":"y0","type":"quantitative","scale":{"domain":[10,1700],"nice":false,"zero":false},"axis":{"values":[200,400,600,800,1000,1200,1400,1600],"labelExpr":"''+datum.value","labelPadding":8,"title":null}},
"y2":{"field":"y1"},
"color":{"field":"v","type":"quantitative","scale":{"domain":[-391,-370.5,-350,-329,-309,-268,-227,-206,-185.5,-144,-103,-62,-50,-41.6,-21,-0.5,20],"range":["#352a87","#32359f","#1a50d0","#0a66e0","#0f6fdc","#1090d0","#10a4c0","#20aeb0","#3bb5a5","#80bd7c","#bdb465","#e8ae48","#fbb035","#fdb838","#fcd12f","#f8e020","#f9fb0e"]},"legend":null},
"stroke":{"field":"v","type":"quantitative","scale":{"domain":[-391,-370.5,-350,-329,-309,-268,-227,-206,-185.5,-144,-103,-62,-50,-41.6,-21,-0.5,20],"range":["#352a87","#32359f","#1a50d0","#0a66e0","#0f6fdc","#1090d0","#10a4c0","#20aeb0","#3bb5a5","#80bd7c","#bdb465","#e8ae48","#fbb035","#fdb838","#fcd12f","#f8e020","#f9fb0e"]},"legend":null}}},
{"data":{"values":[{"y":708}]},"mark":{"type":"rule","color":"#cc3344","strokeWidth":1.5},"encoding":{"y":{"field":"y","type":"quantitative"}}},
{"data":{"values":[{"x0":-466,"x1":-155,"y0":1453,"y1":1655}]},"mark":{"type":"rect","fill":"white","stroke":"#555555","strokeWidth":1},"encoding":{"x":{"field":"x0","type":"quantitative"},"x2":{"field":"x1"},"y":{"field":"y0","type":"quantitative"},"y2":{"field":"y1"}}},
{"data":{"values":[{"x":-445,"y":1540,"t":"δ"},{"x":-300,"y":1540,"t":"δ"}]},"mark":{"type":"text","font":"Liberation Serif","fontStyle":"italic","fontSize":20,"align":"left","baseline":"alphabetic","color":"#222222"},"encoding":{"x":{"field":"x","type":"quantitative"},"y":{"field":"y","type":"quantitative"},"text":{"field":"t"}}},
{"data":{"values":[{"x":-405,"y":1540,"t":"=4.4"}]},"mark":{"type":"text","font":"Liberation Sans","fontWeight":"bold","fontSize":19,"align":"left","baseline":"alphabetic","color":"#222222"},"encoding":{"x":{"field":"x","type":"quantitative"},"y":{"field":"y","type":"quantitative"},"text":{"field":"t"}}},
{"data":{"values":[{"x":-168,"y":1746,"t":"DSP [W/THz]"}]},"mark":{"type":"text","font":"Liberation Sans","fontWeight":"bold","fontSize":22,"align":"left","baseline":"alphabetic","color":"#222222"},"encoding":{"x":{"field":"x","type":"quantitative"},"y":{"field":"y","type":"quantitative"},"text":{"field":"t"}}},
{"data":{"values":[{"x":-271,"y":1504,"t":"1/2"}]},"mark":{"type":"text","font":"Liberation Sans","fontWeight":"bold","fontSize":16,"align":"left","baseline":"alphabetic","color":"#222222"},"encoding":{"x":{"field":"x","type":"quantitative"},"y":{"field":"y","type":"quantitative"},"text":{"field":"t"}}},
{"data":{"values":[{"x":-530,"y":1755,"t":"b)"}]},"mark":{"type":"text","font":"Open Sans","fontWeight":"bold","fontSize":27,"align":"left","baseline":"alphabetic","color":"#000000"},"encoding":{"x":{"field":"x","type":"quantitative"},"y":{"field":"y","type":"quantitative"},"text":{"field":"t"}}}
]},
{"width":106,"height":371,"layer":[
{"data":{"values":[{"y0":-391,"y1":-383,"v":-387},{"y0":-383,"y1":-375,"v":-379},{"y0":-375,"y1":-367,"v":-371},{"y0":-367,"y1":-359,"v":-363},{"y0":-359,"y1":-351,"v":-355},{"y0":-351,"y1":-343,"v":-347},{"y0":-343,"y1":-335,"v":-339},{"y0":-335,"y1":-327,"v":-331},{"y0":-327,"y1":-319,"v":-323},{"y0":-319,"y1":-311,"v":-315},{"y0":-311,"y1":-303,"v":-307},{"y0":-303,"y1":-295,"v":-299},{"y0":-295,"y1":-287,"v":-291},{"y0":-287,"y1":-279,"v":-283},{"y0":-279,"y1":-271,"v":-275},{"y0":-271,"y1":-263,"v":-267},{"y0":-263,"y1":-255,"v":-259},{"y0":-255,"y1":-247,"v":-251},{"y0":-247,"y1":-239,"v":-243},{"y0":-239,"y1":-231,"v":-235},{"y0":-231,"y1":-223,"v":-227},{"y0":-223,"y1":-215,"v":-219},{"y0":-215,"y1":-207,"v":-211},{"y0":-207,"y1":-199,"v":-203},{"y0":-199,"y1":-191,"v":-195},{"y0":-191,"y1":-183,"v":-187},{"y0":-183,"y1":-175,"v":-179},{"y0":-175,"y1":-167,"v":-171},{"y0":-167,"y1":-159,"v":-163},{"y0":-159,"y1":-151,"v":-155},{"y0":-151,"y1":-143,"v":-147},{"y0":-143,"y1":-135,"v":-139},{"y0":-135,"y1":-127,"v":-131},{"y0":-127,"y1":-119,"v":-123},{"y0":-119,"y1":-111,"v":-115},{"y0":-111,"y1":-103,"v":-107},{"y0":-103,"y1":-95,"v":-99},{"y0":-95,"y1":-87,"v":-91},{"y0":-87,"y1":-79,"v":-83},{"y0":-79,"y1":-71,"v":-75},{"y0":-71,"y1":-63,"v":-67},{"y0":-63,"y1":-55,"v":-59},{"y0":-55,"y1":-47,"v":-51},{"y0":-47,"y1":-39,"v":-43},{"y0":-39,"y1":-31,"v":-35},{"y0":-31,"y1":-23,"v":-27},{"y0":-23,"y1":-15,"v":-19},{"y0":-15,"y1":-7,"v":-11},{"y0":-7,"y1":1,"v":-3},{"y0":1,"y1":9,"v":5},{"y0":9,"y1":20,"v":15}]},
"mark":{"type":"rect","strokeWidth":0.5},"encoding":{
"x":{"datum":24,"type":"quantitative","scale":{"domain":[0,106],"nice":false,"zero":false},"axis":null},"x2":{"datum":54},
"y":{"field":"y0","type":"quantitative","scale":{"domain":[-391,20],"nice":false,"zero":false},"axis":{"orient":"right","offset":-52,"zindex":1,"values":[0,-50,-100,-150,-200,-250,-300,-350],"labelExpr":"''+datum.value","title":null,"ticks":true,"tickSize":-4,"tickColor":"#333333","tickWidth":1,"labelPadding":11}},
"y2":{"field":"y1"},
"color":{"field":"v","type":"quantitative","scale":{"domain":[-391,-370.5,-350,-329,-309,-268,-227,-206,-185.5,-144,-103,-62,-50,-41.6,-21,-0.5,20],"range":["#352a87","#32359f","#1a50d0","#0a66e0","#0f6fdc","#1090d0","#10a4c0","#20aeb0","#3bb5a5","#80bd7c","#bdb465","#e8ae48","#fbb035","#fdb838","#fcd12f","#f8e020","#f9fb0e"]},"legend":null},
"stroke":{"field":"v","type":"quantitative","scale":{"domain":[-391,-370.5,-350,-329,-309,-268,-227,-206,-185.5,-144,-103,-62,-50,-41.6,-21,-0.5,20],"range":["#352a87","#32359f","#1a50d0","#0a66e0","#0f6fdc","#1090d0","#10a4c0","#20aeb0","#3bb5a5","#80bd7c","#bdb465","#e8ae48","#fbb035","#fdb838","#fcd12f","#f8e020","#f9fb0e"]},"legend":null}}},
{"data":{"values":[{"x0":24,"x1":54,"y0":-391,"y1":20}]},"mark":{"type":"rect","fill":null,"stroke":"#444444","strokeWidth":1},"encoding":{"x":{"field":"x0","type":"quantitative"},"x2":{"field":"x1"},"y":{"field":"y0","type":"quantitative"},"y2":{"field":"y1"}}}
]}
]}
